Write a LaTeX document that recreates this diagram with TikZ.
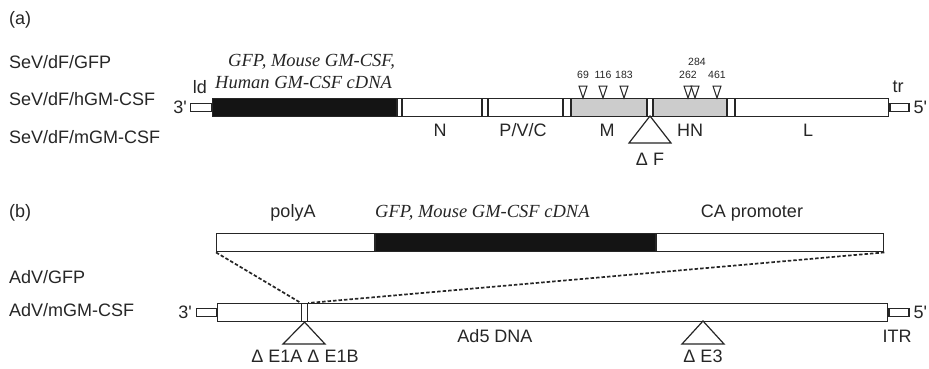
\documentclass[tikz,border=0pt]{standalone}
\usepackage{fontspec}
\setmainfont{Liberation Sans}
\newfontfamily\serifit{Liberation Serif}[ItalicFont={Liberation Serif Italic}]
\definecolor{ink}{gray}{0.15}
\definecolor{blk}{gray}{0.08}
\definecolor{grayfill}{gray}{0.8}
\begin{document}
\begin{tikzpicture}[x=1pt,y=-1pt,
  every node/.style={inner sep=0pt, text=ink},
  lab/.style={font=\fontsize{18}{21}\selectfont, anchor=west},
  glab/.style={font=\fontsize{18}{21}\selectfont},
  num/.style={font=\fontsize{10.5}{12}\selectfont},
  cdna/.style={font=\serifit\itshape\fontsize{18.5}{21}\selectfont, anchor=west},
  barline/.style={draw=ink, line width=1.4pt},
  thinln/.style={draw=ink, line width=1.1pt},
  dashln/.style={draw=ink, line width=1.7pt, dash pattern=on 3.5pt off 2pt},
  sitemark/.style={draw=ink, line width=1pt, fill=white}]
\useasboundingbox (0,0) rectangle (929,368);
% ---------------- panel (a)
\node[lab] (pa) at (9,20) {(a)};
\node[lab] (s1) at (9,62) {SeV/dF/GFP};
\node[lab] (s2) at (9,99) {SeV/dF/hGM-CSF};
\node[lab] (s3) at (9,137) {SeV/dF/mGM-CSF};
\node[cdna] (c1) at (228,62) {GFP, Mouse GM-CSF,};
\node[cdna] (c2) at (215,82) {Human GM-CSF cDNA};
% bar
\fill[blk] (212,98) rectangle (397,116);
\fill[grayfill] (571,98) rectangle (647,116);
\fill[grayfill] (653,98) rectangle (727,116);
\node[barline, anchor=north west, minimum width=676pt, minimum height=18pt] (sev) at (212,98) {};
\foreach \x in {397,402,482,488,563,571,647,653,727,735}
  \draw[thinln] (\x,98) -- (\x,116);
\node[thinln, draw, anchor=east, minimum width=21pt, minimum height=8pt] (ld) at (sev.west) {};
\node[thinln, draw, anchor=west, minimum width=19pt, minimum height=8pt] (tr) at (sev.east) {};
\node[glab, anchor=east] (t3) at ([xshift=-3pt]ld.west) {3\textquotesingle};
\node[glab, anchor=west] (t5) at ([xshift=4pt]tr.east) {5\textquotesingle};
\node[glab] (ldl) at (200,87) {ld};
\node[glab] (trl) at (898,87) {tr};
\node[glab] (gN) at (440,130) {N};
\node[glab] (gP) at (523,130) {P/V/C};
\node[glab] (gM) at (607,130) {M};
\node[glab] (gHN) at (690,130) {HN};
\node[glab] (gL) at (808,130) {L};
% deletion F
\coordinate (fapex) at (650,116);
\draw[sitemark, line width=1.2pt] (fapex) -- (629,143) -- (671,143) -- cycle;
\node[glab] (dF) at (650,159) {Δ F};
% site markers
\foreach \x/\l in {583/69,603/116,624/183,688/262,717/461}{
  \draw[sitemark] (\x-4,86) -- (\x+4,86) -- (\x,98) -- cycle;
  \node[num] (n\l) at (\x,75) {\l};
}
\draw[sitemark] (695-4,86) -- (695+4,86) -- (695,98) -- cycle;
\node[num] (n284) at (697,62) {284};
% ---------------- panel (b)
\node[lab] (pb) at (9,213) {(b)};
\node[lab] (a1) at (9,277) {AdV/GFP};
\node[lab] (a2) at (9,310) {AdV/mGM-CSF};
\node[glab] (pA) at (293,213) {polyA};
\node[cdna] (c3) at (375,213) {GFP, Mouse GM-CSF cDNA};
\node[glab] (CA) at (752,213) {CA promoter};
% insert cassette
\fill[blk] (375,233) rectangle (656,251);
\node[barline, anchor=north west, minimum width=667pt, minimum height=18pt] (cas) at (216,233) {};
\draw[thinln] (375,233) -- (375,251);
\draw[thinln] (656,233) -- (656,251);
% Ad5 genome
\node[barline, anchor=north west, minimum width=670pt, minimum height=18pt] (ad) at (217,303) {};
\node[thinln, draw, anchor=east, minimum width=20pt, minimum height=8pt] (itrl) at (ad.west) {};
\node[thinln, draw, anchor=west, minimum width=20pt, minimum height=8pt] (itrr) at (ad.east) {};
\node[thinln, draw, anchor=north west, minimum width=6pt, minimum height=18pt] (ins) at (301,303) {};
\node[glab, anchor=east] (b3) at ([xshift=-4pt]itrl.west) {3\textquotesingle};
\node[glab, anchor=west] (b5) at ([xshift=4pt]itrr.east) {5\textquotesingle};
\node[glab] (itr) at (897,336) {ITR};
\node[glab] (ad5) at (495,336) {Ad5 DNA};
% dashed guide lines
\draw[dashln] (cas.south west) -- (ins.north west);
\draw[dashln] (cas.south east) -- (ins.north east);
% deletions
\draw[sitemark, line width=1.2pt] (ins.south) -- (283,344) -- (325,344) -- cycle;
\node[glab] (dE1) at (305,356) {Δ E1A Δ E1B};
\draw[sitemark, line width=1.2pt] (703,321) -- (682,344) -- (724,344) -- cycle;
\node[glab] (dE3) at (703,356) {Δ E3};
\end{tikzpicture}
\end{document}
